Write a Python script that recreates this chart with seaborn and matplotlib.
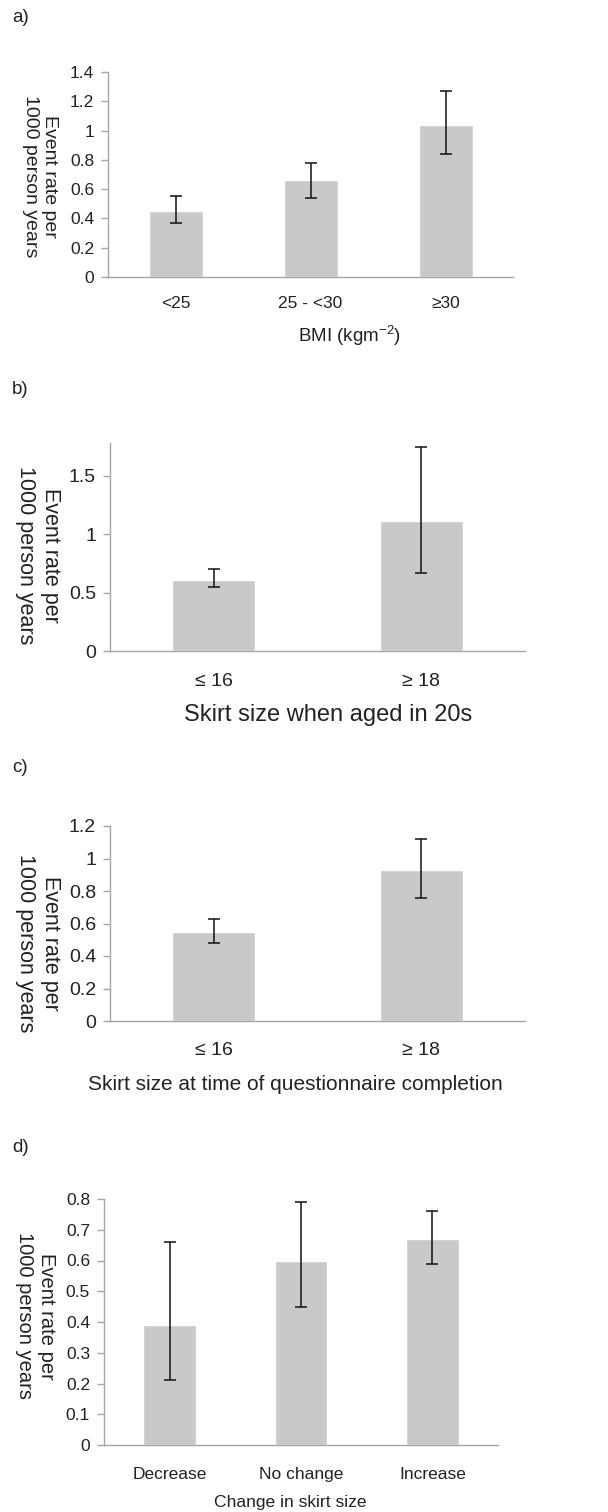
import matplotlib
matplotlib.use("Agg")
import matplotlib.pyplot as plt
import seaborn as sns
import pandas as pd

# Panel a: BMI
bmi_cats = ["<25", "25 - <30", "≥30"]
bmi_rate = [0.45, 0.66, 1.04]
bmi_lo = [0.37, 0.54, 0.84]
bmi_hi = [0.55, 0.78, 1.27]

# Panel b: skirt size in 20s
skirt20_cats = ["≤ 16", "≥ 18"]
skirt20_rate = [0.61, 1.11]
skirt20_lo = [0.55, 0.67]
skirt20_hi = [0.70, 1.75]

# Panel c: skirt size at questionnaire completion
skirtnow_cats = ["≤ 16", "≥ 18"]
skirtnow_rate = [0.55, 0.93]
skirtnow_lo = [0.48, 0.76]
skirtnow_hi = [0.63, 1.12]

# Panel d: change in skirt size
change_cats = ["Decrease", "No change", "Increase"]
change_rate = [0.39, 0.60, 0.67]
change_lo = [0.21, 0.45, 0.59]
change_hi = [0.66, 0.79, 0.76]

sns.set_style("white")
plt.rcParams["font.family"] = ["Liberation Sans", "DejaVu Sans"]
plt.rcParams["mathtext.default"] = "regular"

W, H = 608, 1512
fig = plt.figure(figsize=(W / 100, H / 100), dpi=100)

BAR = "#c9c9c9"
AXIS = "#a6a6a6"
TXT = "#222222"


def panel(box, cats, rate, lo, hi, ylim, yticks, yticklabels, tick_fs, xpad):
    left, right, top, bottom = box
    ax = fig.add_axes([left / W, 1 - bottom / H, (right - left) / W, (bottom - top) / H])
    df = pd.DataFrame({"cat": cats, "rate": rate})
    sns.barplot(data=df, x="cat", y="rate", order=cats, color=BAR, width=0.4,
                saturation=1, ax=ax, errorbar=None)
    yerr = [[r - l for r, l in zip(rate, lo)], [h - r for r, h in zip(rate, hi)]]
    ax.errorbar(range(len(cats)), rate, yerr=yerr, fmt="none", ecolor="#111111",
                elinewidth=1.1, capsize=4.3, capthick=1.1)
    ax.set_xlim(-0.5, len(cats) - 0.5)
    ax.set_ylim(*ylim)
    ax.set_yticks(yticks)
    ax.set_yticklabels(yticklabels)
    ax.set_xlabel("")
    ax.set_ylabel("")
    sns.despine(ax=ax)
    for s in ("left", "bottom"):
        ax.spines[s].set_color(AXIS)
        ax.spines[s].set_linewidth(1.0)
    ax.tick_params(axis="y", direction="out", length=5, width=1, color=AXIS,
                   labelsize=tick_fs, labelcolor=TXT, pad=5, left=True)
    ax.tick_params(axis="x", length=0, labelsize=tick_fs, labelcolor=TXT, pad=xpad)
    ax.set_facecolor("white")
    return ax


def ylab(x, y, fs):
    fig.text(x / W, 1 - y / H, "Event rate per\n1000 person years", rotation=270,
             ha="center", va="center", multialignment="center", fontsize=fs,
             color=TXT, linespacing=1.2)


def label(x, y, s, fs, ha="center"):
    fig.text(x / W, 1 - y / H, s, ha=ha, va="center", fontsize=fs, color=TXT)


# a)
panel((108, 513, 72, 277), bmi_cats, bmi_rate, bmi_lo, bmi_hi, (0, 1.4),
      [0, 0.2, 0.4, 0.6, 0.8, 1.0, 1.2, 1.4],
      ["0", "0.2", "0.4", "0.6", "0.8", "1", "1.2", "1.4"], 12.5, 14)
ylab(40, 176, 14)
label(349, 336, "BMI (kgm$^{-2}$)", 13.5)
label(12, 17, "a)", 13.5, ha="left")

# b)
panel((110, 525, 443, 651), skirt20_cats, skirt20_rate, skirt20_lo, skirt20_hi,
      (0, 1.78), [0, 0.5, 1.0, 1.5], ["0", "0.5", "1", "1.5"], 14, 16)
ylab(38, 555, 15.5)
label(328, 715, "Skirt size when aged in 20s", 17)
label(12, 390, "b)", 13.5, ha="left")

# c)
panel((110, 525, 826, 1021), skirtnow_cats, skirtnow_rate, skirtnow_lo, skirtnow_hi,
      (0, 1.2), [0, 0.2, 0.4, 0.6, 0.8, 1.0, 1.2],
      ["0", "0.2", "0.4", "0.6", "0.8", "1", "1.2"], 14, 15)
ylab(38, 943, 15.5)
label(295, 1085, "Skirt size at time of questionnaire completion", 15)
label(12, 768, "c)", 13.5, ha="left")

# d)
panel((104, 498, 1199, 1445), change_cats, change_rate, change_lo, change_hi,
      (0, 0.8), [0, 0.1, 0.2, 0.3, 0.4, 0.5, 0.6, 0.7, 0.8],
      ["0", "0.1", "0.2", "0.3", "0.4", "0.5", "0.6", "0.7", "0.8"], 12.5, 16)
ylab(35, 1316, 14.5)
label(290, 1502, "Change in skirt size", 12.6)
label(12, 1147, "d)", 13.5, ha="left")

fig.savefig("out.png", dpi=100, facecolor="white")
